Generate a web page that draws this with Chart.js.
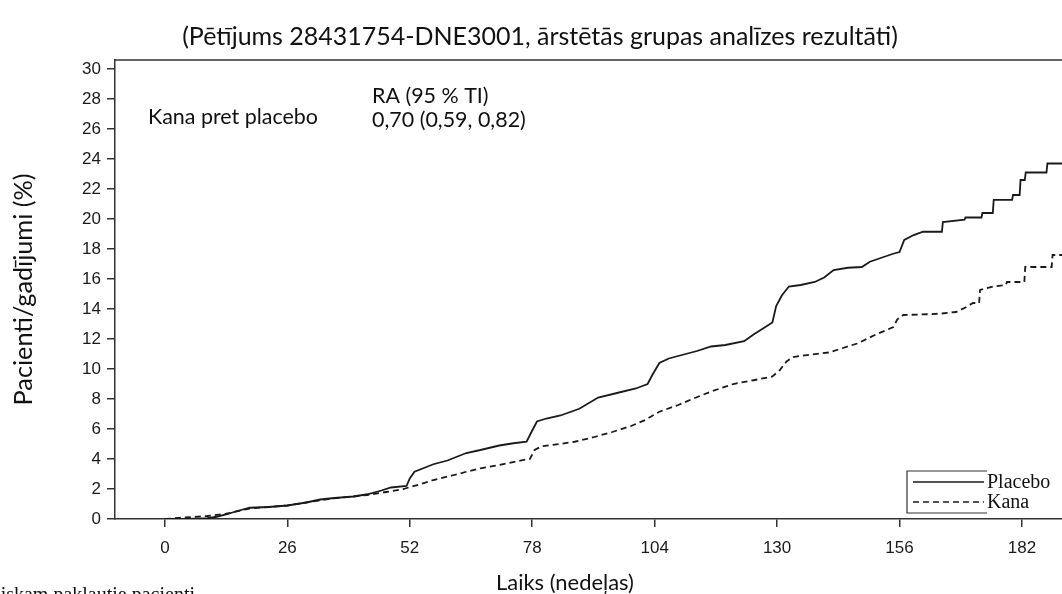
<!DOCTYPE html>
<html>
<head>
<meta charset="utf-8">
<script src="https://cdn.jsdelivr.net/npm/chart.js@4.4.0/dist/chart.umd.min.js"></script>
<style>
  html, body { margin: 0; padding: 0; background: #fff; overflow: hidden; }
</style>
</head>
<body>
<canvas id="chart" width="1062" height="594"></canvas>
<script>
// cumulative incidence (%), by week
var placeboWeeks = [0, 5, 9, 11, 13, 15, 18, 22, 26, 30, 33, 36, 40, 43, 46, 48, 51.3, 52, 53, 55, 57, 60, 64, 67, 71, 74, 76.8, 78, 79, 81, 84, 88, 92, 96, 100, 102.5, 103.5, 105, 107, 110, 113, 116, 119, 123, 125, 127, 129, 129.8, 131, 132.5, 135, 138, 140, 142, 145, 148, 149.7, 152, 154.8, 156, 157, 159, 161, 165, 165.2, 169.8, 170, 173.4, 173.6, 175.8, 176, 179.9, 180.1, 181.5, 181.7, 182.6, 182.8, 187.2, 187.4, 192];
var placeboPct = [0, 0, 0.05, 0.15, 0.3, 0.5, 0.75, 0.8, 0.9, 1.1, 1.3, 1.4, 1.5, 1.65, 1.9, 2.1, 2.2, 2.7, 3.15, 3.4, 3.65, 3.9, 4.4, 4.6, 4.9, 5.05, 5.15, 5.9, 6.5, 6.7, 6.9, 7.35, 8.1, 8.4, 8.7, 9.0, 9.6, 10.4, 10.7, 10.95, 11.2, 11.5, 11.6, 11.85, 12.3, 12.7, 13.1, 14.2, 14.9, 15.5, 15.6, 15.8, 16.1, 16.6, 16.75, 16.8, 17.15, 17.4, 17.7, 17.8, 18.6, 18.93, 19.15, 19.15, 19.8, 19.95, 20.1, 20.1, 20.4, 20.4, 21.27, 21.27, 21.6, 21.6, 22.6, 22.6, 23.1, 23.1, 23.7, 23.7];

var kanaWeeks = [0, 4, 9, 13, 18, 22, 26, 30, 35, 40, 43, 47, 50.6, 54, 57, 61, 64, 67, 71, 76, 77.5, 78.5, 80, 84, 87, 91, 95, 99, 102, 105, 109, 112, 116, 120.7, 125, 129, 130.5, 132, 133.4, 137, 141, 144, 147, 151, 154.7, 155.5, 156.8, 162, 165, 168, 170, 171.6, 172.9, 173.1, 176, 178.6, 178.8, 182.5, 182.7, 188.3, 188.5, 192];
var kanaPct = [0, 0.1, 0.2, 0.35, 0.7, 0.8, 0.9, 1.1, 1.35, 1.5, 1.6, 1.8, 2.0, 2.3, 2.6, 2.9, 3.15, 3.38, 3.6, 3.93, 4.0, 4.6, 4.85, 5.0, 5.15, 5.45, 5.8, 6.2, 6.6, 7.15, 7.6, 8.0, 8.5, 9.0, 9.25, 9.5, 9.9, 10.5, 10.8, 10.95, 11.1, 11.4, 11.7, 12.3, 12.8, 13.3, 13.6, 13.65, 13.7, 13.8, 14.1, 14.4, 14.4, 15.27, 15.5, 15.6, 15.8, 15.8, 16.8, 16.8, 17.6, 17.6];

var xTicks = [0, 26, 52, 78, 104, 130, 156, 182];
var yTicks = [0, 2, 4, 6, 8, 10, 12, 14, 16, 18, 20, 22, 24, 26, 28, 30];

var titleText = '(Pētījums 28431754-DNE3001, ārstētās grupas analīzes rezultāti)';
var yTitle = 'Pacienti/gadījumi (%)';
var xTitle = 'Laiks (nedeļas)';
var noteLabel = 'Kana pret placebo';
var noteHead = 'RA (95 % TI)';
var noteValue = '0,70 (0,59, 0,82)';
var riskText = 'Riskam pakļautie pacienti';

var sans = 'Lato, "Open Sans", sans-serif';
var serif = '"Liberation Serif", "DejaVu Serif", serif';
var tickFont = '"Liberation Sans", Arial, sans-serif';

var measure = document.createElement('canvas').getContext('2d');
// font size that makes text a given width
function fitSize(text, family, width) {
  measure.font = '100px ' + family;
  return 100 * width / measure.measureText(text).width;
}

function toPoints(xs, ys) {
  return xs.map(function (x, i) { return { x: x, y: ys[i] }; });
}

var ink = '#1a1a1a';
var axisInk = '#333';

var chartText = {
  id: 'chartText',
  afterDraw: function (chart) {
    var c = chart.ctx;
    var a = chart.chartArea;
    c.save();

    // frame line along the top
    c.strokeStyle = axisInk;
    c.lineWidth = 1.5;
    c.beginPath();
    c.moveTo(a.left - 1, a.top);
    c.lineTo(a.right, a.top);
    c.stroke();

    c.fillStyle = '#111';

    c.font = fitSize(titleText, sans, 716) + 'px ' + sans;
    c.textAlign = 'center';
    c.textBaseline = 'middle';
    c.fillText(titleText, 540, 37);

    var noteSize = fitSize(noteLabel, sans, 170);
    c.font = noteSize + 'px ' + sans;
    c.textAlign = 'left';
    c.textBaseline = 'alphabetic';
    c.fillText(noteLabel, 148, 124);
    c.fillText(noteHead, 372, 103);
    c.fillText(noteValue, 372, 127);

    c.font = fitSize(xTitle, sans, 138) + 'px ' + sans;
    c.fillText(xTitle, 496, 590);

    c.font = '20px ' + serif;
    c.textAlign = 'right';
    c.fillText(riskText, 195, 601);

    // legend box
    var ds = chart.data.datasets;
    c.strokeStyle = axisInk;
    c.lineWidth = 1.2;
    c.setLineDash([]);
    c.beginPath();
    c.moveTo(987, 471);
    c.lineTo(907, 471);
    c.lineTo(907, 513);
    c.lineTo(987, 513);
    c.stroke();

    c.font = '20px ' + serif;
    c.textAlign = 'left';
    [482, 502].forEach(function (y, i) {
      c.strokeStyle = ds[i].borderColor;
      c.lineWidth = 1.3;
      c.setLineDash(ds[i].borderDash || []);
      c.beginPath();
      c.moveTo(913, y);
      c.lineTo(984, y);
      c.stroke();
      c.fillText(ds[i].label, 987, y + 6);
    });
    c.restore();
  }
};

new Chart(document.getElementById('chart'), {
  type: 'line',
  data: {
    datasets: [{
      label: 'Placebo',
      data: toPoints(placeboWeeks, placeboPct),
      borderColor: ink,
      borderWidth: 1.8,
      pointRadius: 0,
      tension: 0,
      fill: false
    }, {
      label: 'Kana',
      data: toPoints(kanaWeeks, kanaPct),
      borderColor: ink,
      borderWidth: 1.8,
      borderDash: [6, 4],
      pointRadius: 0,
      tension: 0,
      fill: false
    }]
  },
  options: {
    responsive: false,
    animation: false,
    devicePixelRatio: 1,
    layout: { padding: { top: 60, left: 0, right: 0, bottom: 0 } },
    plugins: {
      legend: { display: false },
      tooltip: { enabled: false }
    },
    scales: {
      x: {
        type: 'linear',
        min: -10.6,
        max: 190.5,
        afterBuildTicks: function (s) { s.ticks = xTicks.map(function (v) { return { value: v }; }); },
        afterFit: function (s) { s.height = 75; },
        ticks: {
          font: { family: tickFont, size: 17 },
          color: '#1a1a1a',
          padding: 11,
          maxRotation: 0,
          autoSkip: false
        },
        grid: { drawOnChartArea: false, drawTicks: true, tickLength: 8, color: axisInk, lineWidth: 1.5 },
        border: { color: axisInk, width: 1.5 }
      },
      y: {
        min: 0,
        max: 30.6,
        afterBuildTicks: function (s) { s.ticks = yTicks.map(function (v) { return { value: v }; }); },
        afterFit: function (s) { s.width = 115; },
        ticks: {
          font: { family: tickFont, size: 17 },
          color: '#1a1a1a',
          padding: 6,
          autoSkip: false
        },
        grid: { drawOnChartArea: false, drawTicks: true, tickLength: 8, color: axisInk, lineWidth: 1.5 },
        border: { color: axisInk, width: 1.5 },
        title: {
          display: true,
          text: yTitle,
          color: '#111',
          font: { family: sans, size: fitSize(yTitle, sans, 232) },
          padding: { top: 9, bottom: 0 }
        }
      }
    }
  },
  plugins: [chartText]
});
</script>
</body>
</html>
